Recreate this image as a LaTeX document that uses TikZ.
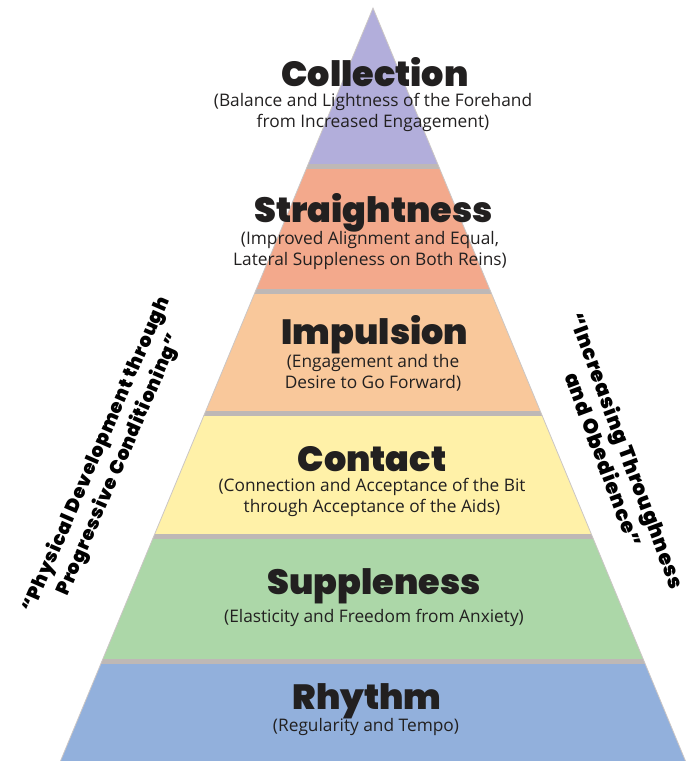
\documentclass[tikz,border=0pt]{standalone}
\usepackage{fontspec}
\setmainfont{Open Sans}
\newfontfamily\heavyfont{Poppins Black}
\newfontfamily\sidefont{Poppins Black}[LetterSpace=4]
\definecolor{cpurple}{RGB}{178,174,219}
\definecolor{csalmon}{RGB}{243,169,140}
\definecolor{cpeach}{RGB}{249,200,155}
\definecolor{cyellow}{RGB}{255,241,168}
\definecolor{cgreen}{RGB}{172,215,168}
\definecolor{cblue}{RGB}{146,176,220}
\definecolor{csep}{RGB}{190,184,182}
\definecolor{ctext}{RGB}{34,32,32}
\tikzset{
  ttl/.style={font=\heavyfont\fontsize{35}{38}\selectfont, text=ctext, inner sep=0pt},
  sub/.style={font=\fontsize{17.3}{21}\selectfont, text=ctext, align=center, inner sep=0pt},
  side/.style={font=\sidefont\fontsize{19}{25}\selectfont, text=black, align=center, inner sep=0pt},
}
\begin{document}
\begin{tikzpicture}[x=1pt,y=-1pt]
\useasboundingbox (0,0) rectangle (694,761);
\coordinate (apex) at (373,8);
\coordinate (bl) at (60.5,761);
\coordinate (br) at (685.5,761);
\begin{scope}
\clip (apex) -- (bl) -- (br) -- cycle;
\fill[cpurple] (0,0) rectangle (694,167);
\fill[csalmon] (0,167) rectangle (694,292);
\fill[cpeach] (0,292) rectangle (694,414);
\fill[cyellow] (0,414) rectangle (694,537);
\fill[cgreen] (0,537) rectangle (694,662);
\fill[cblue] (0,662) rectangle (694,761);
\foreach \y in {166,291,413,536,661} \fill[csep] (0,\y-2) rectangle (694,\y+2.5);
\end{scope}
\draw[csep!80!white, line width=0.8pt] (bl) -- (apex) -- (br);

\node[ttl] (t1) at (375,72) {Collection};
\node[sub] (s1) at (373,112) {(Balance and Lightness of the Forehand\\from Increased Engagement)};
\node[ttl] (t2) at (373.5,213) {Straightness};
\node[sub] (s2) at (370,251) {(Improved Alignment and Equal,\\Lateral Suppleness on Both Reins)};
\node[ttl] (t3) at (375,335) {Impulsion};
\node[sub] (s3) at (373,373) {(Engagement and the\\Desire to Go Forward)};
\node[ttl] (t4) at (372,459) {Contact};
\node[sub] (s4) at (372,497) {(Connection and Acceptance of the Bit\\through Acceptance of the Aids)};
\node[ttl] (t5) at (374,586) {Suppleness};
\node[sub] (s5) at (374,618) {(Elasticity and Freedom from Anxiety)};
\node[ttl] (t6) at (367,701) {Rhythm};
\node[sub] (s6) at (366,727) {(Regularity and Tempo)};

\node[side, rotate=66.5] (left) at (108,460) {“Physical Development through\\Progressive Conditioning”};
\node[side, rotate=-69.5, font=\sidefont\fontsize{20.5}{25}\selectfont] (right) at (616,455) {“Increasing Throughness\\and Obedience”};
\end{tikzpicture}
\end{document}
